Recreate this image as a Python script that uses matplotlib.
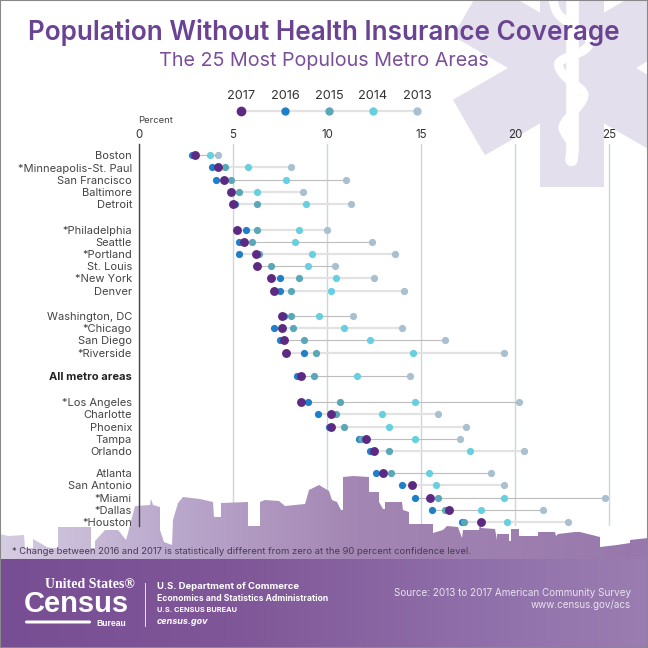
import numpy as np
import matplotlib
matplotlib.use("Agg")
import matplotlib.pyplot as plt
from matplotlib.colors import LinearSegmentedColormap
from matplotlib.patches import Polygon, PathPatch, Rectangle, FancyBboxPatch
from matplotlib.path import Path
from matplotlib.transforms import Affine2D

# ── data ──────────────────────────────────────────────────────────
cities = ["Boston", "*Minneapolis-St. Paul", "San Francisco", "Baltimore", "Detroit",
          "*Philadelphia", "Seattle", "*Portland", "St. Louis", "*New York", "Denver",
          "Washington, DC", "*Chicago", "San Diego", "*Riverside",
          "All metro areas",
          "*Los Angeles", "Charlotte", "Phoenix", "Tampa", "Orlando",
          "Atlanta", "San Antonio", "*Miami", "*Dallas", "*Houston"]
group_sizes = [5, 6, 4, 1, 5, 5]

pct_2017 = [3.0, 4.2, 4.5, 4.9, 5.0, 5.2, 5.6, 6.2, 6.3, 7.0, 7.2, 7.6, 7.6, 7.7, 7.8,
            8.6, 8.6, 10.2, 10.2, 12.1, 12.5, 13.0, 14.5, 15.5, 16.5, 18.2]
pct_2016 = [2.8, 3.9, 4.1, 4.9, 5.1, 5.7, 5.3, 5.3, 6.3, 7.5, 7.5, 7.7, 7.2, 7.5, 8.8,
            8.4, 9.0, 9.5, 10.1, 11.7, 12.3, 12.6, 14.0, 14.7, 15.6, 17.2]
pct_2015 = [2.9, 4.6, 4.9, 5.3, 6.3, 6.3, 6.0, 6.4, 7.0, 8.5, 8.1, 8.1, 8.2, 8.8, 9.4,
            9.3, 10.7, 10.5, 10.9, 11.8, 13.3, 13.4, 14.5, 15.9, 16.3, 17.3]
pct_2014 = [3.8, 5.8, 7.8, 6.3, 8.9, 8.5, 8.3, 9.2, 9.0, 10.5, 10.2, 9.6, 10.9, 12.3, 14.6,
            11.6, 14.7, 12.9, 13.3, 14.7, 17.6, 15.4, 15.8, 19.4, 18.2, 19.6]
pct_2013 = [4.2, 8.1, 11.0, 8.7, 11.3, 10.0, 12.4, 13.6, 10.4, 12.5, 14.1, 11.4, 14.0, 16.3, 19.4,
            14.4, 20.2, 15.9, 17.4, 17.1, 20.5, 18.7, 19.4, 24.8, 21.5, 22.8]
years = ["2017", "2016", "2015", "2014", "2013"]
x_ticks = [0, 5, 10, 15, 20, 25]

# rows whose connector renders as a thin darker line
thin_rows = {"Boston", "San Francisco", "Seattle", "St. Louis", "Washington, DC", "San Diego",
             "All metro areas", "*Los Angeles", "Tampa", "Atlanta", "*Miami", "*Dallas"}

# ── styles / layout (pixels of the 648x648 image) ─────────────────
PURPLE = "#6b4393"
C = {"2017": "#5c2a82", "2016": "#1f7fc8", "2015": "#5aa7b8", "2014": "#66cfe0", "2013": "#a8c0d0"}
FONT = "Inter"
PX_PER_UNIT = 18.8
X0, TOP, BOTTOM = 139, 144, 526
group_tops = [155.3, 229.7, 316.0, 375.7, 402.3, 473.3]
ROW_STEP = 12.2

plt.rcParams["font.family"] = [FONT, "DejaVu Sans"]
fig = plt.figure(figsize=(6.48, 6.48), dpi=100, facecolor="white")
ax = fig.add_axes([X0 / 648, (648 - BOTTOM) / 648, (648 - X0) / 648, (BOTTOM - TOP) / 648])
ax.patch.set_visible(False)

# decoration coordinates are image pixels, y down
pix = Affine2D().translate(-X0, 0).scale(1 / PX_PER_UNIT, 1) + ax.transData

row_y = []
for top, n in zip(group_tops, group_sizes):
    row_y += [top + i * ROW_STEP for i in range(n)]
row_y = np.array(row_y)


def gradient(x0, x1, y0, y1, stops, clip, z=1.0):
    cmap = LinearSegmentedColormap.from_list("g", stops)
    im = ax.imshow(np.linspace(0, 1, 256)[None, :], cmap=cmap, extent=(x0, x1, y1, y0),
                   transform=pix, aspect="auto", zorder=z, interpolation="bilinear")
    im.set_clip_path(clip)
    im.set_clip_box(fig.bbox)
    return im


# star of life
CX, CY = 572, 68
bar = np.array([[-32, -119], [32, -119], [32, 119], [-32, 119]])
for deg in [0, 60, 120]:
    a = np.radians(deg)
    rot = np.array([[np.cos(a), -np.sin(a)], [np.sin(a), np.cos(a)]])
    ax.add_patch(Polygon(bar @ rot.T + [CX, CY], closed=True, fc="#e4dfec", ec="none",
                         transform=pix, clip_on=False, zorder=0.1))
# rod and snake
ax.plot([572.5, 572.5, 571.5], [0, 150, 160], color="white", lw=9, solid_capstyle="round",
        transform=pix, clip_on=False, zorder=0.2)
snake = [(553, 0), (557, 15), (573, 25), (588, 36), (591, 43), (583, 52), (559, 60), (558, 68),
         (568, 80), (584, 91), (584, 99), (573, 113), (563, 124), (563, 131), (572, 143), (577, 156)]
codes = [Path.MOVETO] + [Path.CURVE3] * (2 * (len(snake) - 1))
verts = [snake[0]]
for p, q in zip(snake[:-1], snake[1:]):
    verts += [p, ((p[0] + q[0]) / 2, (p[1] + q[1]) / 2)]
ax.add_patch(PathPatch(Path(verts, codes), fc="none", ec="white", lw=6.5, capstyle="round",
                       transform=pix, clip_on=False, zorder=0.2))

# skyline
skyline = [(0, 559), (0, 534), (8, 536), (24, 535), (25, 548), (33, 548), (33, 539), (47, 547), (52, 548),
           (58, 548), (58, 527), (91, 527), (91, 548), (95, 548), (95, 541), (105, 530), (118, 530),
           (126, 540), (128, 533), (135, 506), (150, 505), (151, 499), (153, 505), (160, 507), (160, 530),
           (164, 542), (172, 545), (173, 520), (178, 503), (183, 497), (200, 499), (213, 502), (214, 517),
           (221, 517), (221, 503), (248, 502), (248, 526), (260, 526), (260, 502), (265, 500), (279, 501),
           (285, 506), (305, 504), (309, 490), (319, 485), (329, 491), (332, 500), (337, 502), (341, 510),
           (343, 510), (343, 477), (353, 476), (369, 477), (369, 492), (379, 492), (379, 502), (383, 509),
           (385, 509), (385, 502), (402, 502), (403, 510), (409, 512), (409, 524), (433, 524), (433, 533),
           (443, 530), (447, 526), (458, 527), (462, 538), (463, 530), (479, 530), (480, 523), (481, 528),
           (495, 529), (497, 540), (497, 534), (509, 534), (509, 541), (511, 541), (511, 529), (519, 529),
           (519, 536), (538, 536), (538, 532), (555, 532), (556, 536), (558, 534), (575, 532), (580, 532),
           (592, 535), (600, 537), (600, 547), (617, 545), (630, 543), (630, 540), (648, 538), (648, 559)]
sky_patch = Polygon(skyline, closed=True, transform=pix, fc="none", ec="none")
gradient(0, 648, 476, 560, [(0, "#d6cde2"), (0.25, "#bcaace"), (0.55, "#a386b3"), (1, "#9878ac")], sky_patch, z=1.0)

# footer band
band = Polygon([(0, 559), (648, 559), (648, 648), (0, 648)], closed=True, transform=pix, fc="none", ec="none")
gradient(0, 648, 559, 648, [(0, "#774e93"), (0.35, "#7f5697"), (0.75, "#9070aa"), (1, "#9b7db1")], band, z=1.1)

# ── chart ─────────────────────────────────────────────────────────
ax.set_xlim(0, (648 - X0) / PX_PER_UNIT)
ax.set_ylim(BOTTOM, TOP)

series = {"2017": pct_2017, "2016": pct_2016, "2015": pct_2015, "2014": pct_2014, "2013": pct_2013}
lows = np.min(list(series.values()), axis=0)
highs = np.max(list(series.values()), axis=0)
for name, y, lo, hi in zip(cities, row_y, lows, highs):
    thin = name in thin_rows
    ax.hlines(y, lo, hi, color="#bdbdbd" if thin else "#e2e2e2", lw=0.8 if thin else 1.6, zorder=2)

for z, yr in zip([3, 4, 6, 5], ["2013", "2014", "2015", "2016"]):
    ax.plot(series[yr], row_y, "o", color=C[yr], ms=5.2, mew=0, ls="none", zorder=z, clip_on=False)
ax.plot(series["2017"], row_y, "o", color=C["2017"], ms=6.4, mew=0, ls="none", zorder=7, clip_on=False)

ax.xaxis.tick_top()
ax.set_xticks(x_ticks)
ax.set_xticklabels([str(t) for t in x_ticks], fontsize=8.3, color="#333333")
ax.tick_params(axis="x", length=0, pad=2.5)
ax.grid(axis="x", color="#cdd6de", lw=1.0)
ax.set_yticks(row_y)
ax.set_yticklabels(cities, fontsize=8, color="#444444")
ax.tick_params(axis="y", length=0, pad=5)
for lab in ax.get_yticklabels():
    if lab.get_text() == "All metro areas":
        lab.set_fontweight("bold")
        lab.set_color("#222222")
for s in ["top", "right", "bottom"]:
    ax.spines[s].set_visible(False)
ax.spines["left"].set_color("#444444")
ax.spines["left"].set_linewidth(1.0)
ax.set_axisbelow(True)
ax.xaxis.set_zorder(0.5)
ax.yaxis.set_zorder(2.7)
ax.spines["left"].set_zorder(2.6)


def label(x, y, s, **kw):
    kw.setdefault("ha", "left")
    kw.setdefault("va", "center")
    kw.setdefault("zorder", 9)
    return ax.text(x, y, s, transform=pix, clip_on=False, **kw)


# legend
legend_x = [241, 285, 329, 373, 417]
ax.plot([legend_x[0], legend_x[-1]], [111, 111], color="#e2e2e2", lw=1.6, transform=pix, clip_on=False, zorder=2)
for yr, lx in zip(years, legend_x):
    ax.plot([lx], [111], "o", color=C[yr], ms=7.0 if yr == "2017" else 6.0, mew=0, transform=pix,
            clip_on=False, zorder=3)
    label(lx, 96, yr, ha="center", fontsize=9.2, color="#333333")

label(138, 120.5, "Percent", fontsize=6.8, color="#444444")

# titles
label(324, 33, "Population Without Health Insurance Coverage", ha="center", fontsize=18.8,
      fontweight="semibold", color=PURPLE)
label(324, 61, "The 25 Most Populous Metro Areas", ha="center", fontsize=14.2, color="#7a4f9a")

# footnote and footer
label(12, 552, "* Change between 2016 and 2017 is statistically different from zero at the 90 percent confidence level.",
      fontsize=6.8, color="#4a3a55")
ax.plot([145, 145], [583, 626], color="#e8e0ee", lw=0.7, transform=pix, clip_on=False, zorder=8)
label(45, 585, "United States®", family="Liberation Serif", fontweight="bold", fontsize=10, color="white")
label(24, 604, "Census", family="Liberation Sans", fontweight="bold", fontsize=21, color="white")
ax.add_patch(FancyBboxPatch((25, 620.5), 66, 3, boxstyle="round,pad=0,rounding_size=1.5", fc="white", ec="none",
                            transform=pix, clip_on=False, zorder=9))
label(96, 624, "Bureau", family="Liberation Sans", fontweight="bold", fontsize=6.2, color="white")
label(157, 587, "U.S. Department of Commerce", fontsize=6.85, fontweight="bold", color="white")
label(157, 599, "Economics and Statistics Administration", fontsize=6.2, fontweight="bold", color="white")
label(157, 610.5, "U.S. CENSUS BUREAU", fontsize=5.3, fontweight="bold", color="white")
label(157, 622, "census.gov", fontsize=6.5, fontweight="bold", fontstyle="italic", color="white")
label(631, 593, "Source: 2013 to 2017 American Community Survey", ha="right", fontsize=7.15, color="#e8e2ee")
label(631, 604.5, "www.census.gov/acs", ha="right", fontsize=7.1, color="#e8e2ee")

# image border
fig.add_artist(Rectangle((0, 0), 1, 1, transform=fig.transFigure, fc="none", ec="#888888", lw=1.5))

fig.savefig("out.png", dpi=100)
